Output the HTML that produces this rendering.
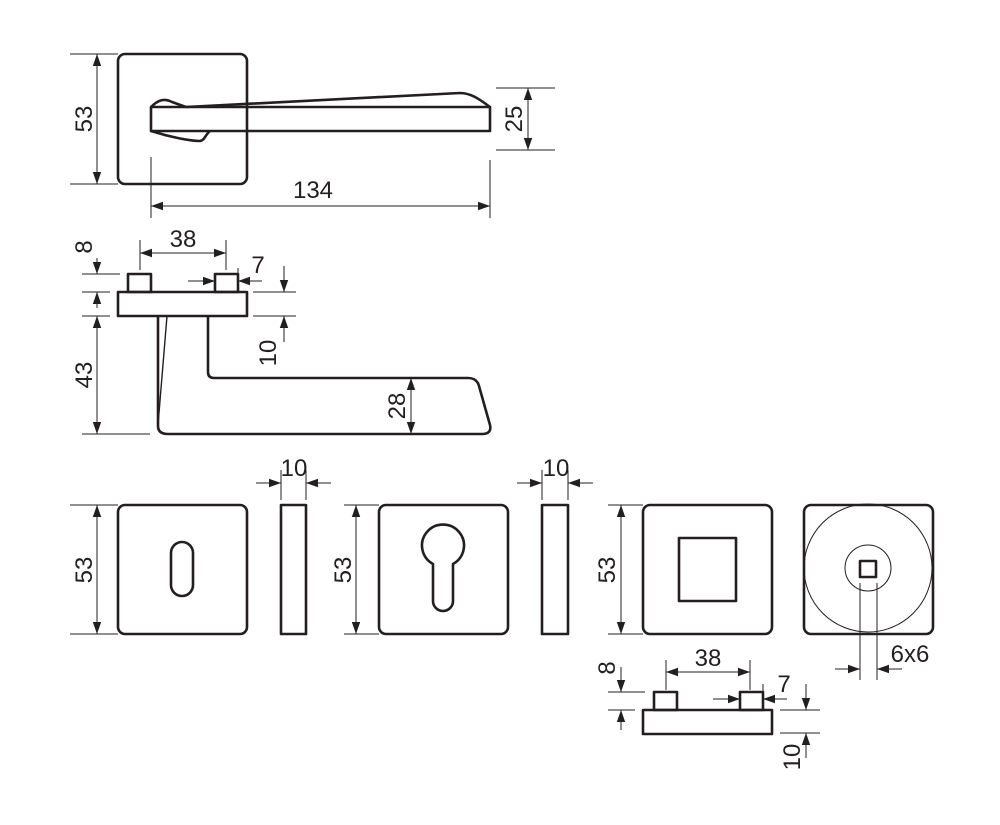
<!DOCTYPE html>
<html><head><style>
html,body{margin:0;padding:0;background:#fff;}
svg{display:block;}
text{font-family:"Liberation Sans",Arial,sans-serif;font-size:24px;fill:#231f20;}
.m{fill:none;stroke:#231f20;stroke-width:2.6;stroke-linejoin:round;}
.t{fill:none;stroke:#231f20;stroke-width:1;}
</style></head><body>
<svg width="1000" height="825" viewBox="0 0 1000 825" xmlns="http://www.w3.org/2000/svg">
<defs>
<marker id="a" viewBox="0 0 10 10" refX="10" refY="5" markerWidth="12" markerHeight="12" markerUnits="userSpaceOnUse" orient="auto-start-reverse"><path d="M0,1.5 L10,5 L0,8.5 z" fill="#231f20"/></marker>
</defs>

<!-- TOP VIEW -->
<rect class="m" x="118" y="54" width="129" height="130" rx="7"/>
<rect class="m" x="151" y="107" width="339" height="24" fill="#fff"/>
<path class="m" d="M151,107 C158,100 164,98 172,102 L186,107"/>
<path class="m" d="M186,107 L460,93 C470,93 478,98 490,107"/>
<path class="m" d="M151,131 C170,137 190,141 200,141 C205,140 205,135 210,131"/>
<!-- 53 -->
<line class="t" x1="70" y1="54" x2="118" y2="54"/><line class="t" x1="70" y1="184" x2="118" y2="184"/>
<line class="t" x1="97" y1="54" x2="97" y2="184" marker-start="url(#a)" marker-end="url(#a)"/>
<text transform="translate(92,119) rotate(-90)" text-anchor="middle">53</text>
<!-- 25 -->
<line class="t" x1="496" y1="88" x2="555" y2="88"/><line class="t" x1="496" y1="150" x2="555" y2="150"/>
<line class="t" x1="528" y1="88" x2="528" y2="150" marker-start="url(#a)" marker-end="url(#a)"/>
<text transform="translate(522,119) rotate(-90)" text-anchor="middle">25</text>
<!-- 134 -->
<line class="t" x1="151" y1="157" x2="151" y2="218"/><line class="t" x1="490" y1="160" x2="490" y2="218"/>
<line class="t" x1="151" y1="206" x2="490" y2="206" marker-start="url(#a)" marker-end="url(#a)"/>
<text x="313" y="198" text-anchor="middle">134</text>

<!-- SIDE VIEW -->
<rect class="m" x="118" y="292" width="129" height="24"/>
<rect class="m" x="128" y="274" width="23" height="18"/>
<rect class="m" x="215" y="274" width="23" height="18"/>
<path class="m" d="M158,316 L158,426 Q158,434 168,434 L482,434 Q492,434 490,425 L479,386 Q477,378 468,378 L214,378 Q208,378 208,372 L208,316"/>
<line class="t" x1="167" y1="316" x2="158" y2="425" style="stroke-width:1.4"/>
<!-- 38 -->
<line class="t" x1="140" y1="240" x2="140" y2="270"/><line class="t" x1="226" y1="240" x2="226" y2="270"/>
<line class="t" x1="140" y1="253" x2="226" y2="253" marker-start="url(#a)" marker-end="url(#a)"/>
<text x="183" y="247" text-anchor="middle">38</text>
<!-- 7 -->
<line class="t" x1="188" y1="281" x2="215" y2="281" marker-end="url(#a)"/>
<line class="t" x1="262" y1="281" x2="238" y2="281" marker-end="url(#a)"/>
<line class="t" x1="238" y1="268" x2="238" y2="274"/>
<text x="258" y="273" text-anchor="middle">7</text>
<!-- right 8/10 -->
<line class="t" x1="253" y1="292" x2="296" y2="292"/><line class="t" x1="253" y1="316" x2="296" y2="316"/>
<line class="t" x1="284" y1="266" x2="284" y2="292" marker-end="url(#a)"/>
<line class="t" x1="284" y1="342" x2="284" y2="316" marker-end="url(#a)"/>
<text transform="translate(276,353) rotate(-90)" text-anchor="middle">10</text>
<!-- left 8/43 -->
<line class="t" x1="82" y1="274" x2="120" y2="274"/><line class="t" x1="82" y1="292" x2="110" y2="292"/>
<line class="t" x1="82" y1="316" x2="110" y2="316"/><line class="t" x1="82" y1="434" x2="150" y2="434"/>
<line class="t" x1="97" y1="258" x2="97" y2="274" marker-end="url(#a)"/>
<line class="t" x1="97" y1="308" x2="97" y2="292" marker-end="url(#a)"/>
<line class="t" x1="97" y1="316" x2="97" y2="434" marker-start="url(#a)" marker-end="url(#a)"/>
<text transform="translate(92,247) rotate(-90)" text-anchor="middle">8</text>
<text transform="translate(92,375) rotate(-90)" text-anchor="middle">43</text>
<!-- 28 -->
<line class="t" x1="411" y1="378" x2="411" y2="434" marker-start="url(#a)" marker-end="url(#a)"/>
<text transform="translate(405,406) rotate(-90)" text-anchor="middle">28</text>

<!-- BOTTOM ROW -->
<rect class="m" x="118" y="505" width="129" height="129" rx="7"/>
<rect class="m" x="171" y="542" width="22" height="54" rx="11"/>
<line class="t" x1="70" y1="505" x2="118" y2="505"/><line class="t" x1="70" y1="634" x2="118" y2="634"/>
<line class="t" x1="97" y1="505" x2="97" y2="634" marker-start="url(#a)" marker-end="url(#a)"/>
<text transform="translate(92,570) rotate(-90)" text-anchor="middle">53</text>

<rect class="m" x="281" y="505" width="25" height="129"/>
<line class="t" x1="281" y1="470" x2="281" y2="500"/><line class="t" x1="306" y1="470" x2="306" y2="500"/>
<line class="t" x1="256" y1="483" x2="281" y2="483" marker-end="url(#a)"/>
<line class="t" x1="331" y1="483" x2="306" y2="483" marker-end="url(#a)"/>
<text x="294" y="476" text-anchor="middle">10</text>

<rect class="m" x="379" y="505" width="129" height="129" rx="7"/>
<path class="m" d="M433,564 A21,21 0 1 1 453,564 L453,601 A10,10 0 0 1 433,601 Z"/>
<line class="t" x1="344" y1="505" x2="379" y2="505"/><line class="t" x1="344" y1="634" x2="379" y2="634"/>
<line class="t" x1="356" y1="505" x2="356" y2="634" marker-start="url(#a)" marker-end="url(#a)"/>
<text transform="translate(351,570) rotate(-90)" text-anchor="middle">53</text>

<rect class="m" x="542" y="505" width="26" height="129"/>
<line class="t" x1="542" y1="470" x2="542" y2="500"/><line class="t" x1="568" y1="470" x2="568" y2="500"/>
<line class="t" x1="517" y1="483" x2="542" y2="483" marker-end="url(#a)"/>
<line class="t" x1="593" y1="483" x2="568" y2="483" marker-end="url(#a)"/>
<text x="556" y="476" text-anchor="middle">10</text>

<rect class="m" x="643" y="505" width="129" height="129" rx="7"/>
<rect class="m" x="679" y="538" width="57" height="63"/>
<line class="t" x1="608" y1="505" x2="643" y2="505"/><line class="t" x1="608" y1="634" x2="643" y2="634"/>
<line class="t" x1="621" y1="505" x2="621" y2="634" marker-start="url(#a)" marker-end="url(#a)"/>
<text transform="translate(615,570) rotate(-90)" text-anchor="middle">53</text>

<rect class="m" x="804" y="505" width="129" height="129" rx="7"/>
<circle class="t" cx="868" cy="568" r="64"/>
<circle class="t" cx="868" cy="568" r="23"/>
<rect class="m" x="860" y="561" width="16" height="16"/>
<line class="t" x1="860" y1="583" x2="860" y2="680"/><line class="t" x1="877" y1="583" x2="877" y2="680"/>
<line class="t" x1="835" y1="669" x2="860" y2="669" marker-end="url(#a)"/>
<line class="t" x1="902" y1="669" x2="877" y2="669" marker-end="url(#a)"/>
<text x="910" y="662" text-anchor="middle">6x6</text>

<!-- bottom side plate -->
<rect class="m" x="643" y="710" width="129" height="24"/>
<rect class="m" x="654" y="692" width="23" height="18"/>
<rect class="m" x="740" y="692" width="23" height="18"/>
<line class="t" x1="666" y1="660" x2="666" y2="690"/><line class="t" x1="750" y1="660" x2="750" y2="690"/>
<line class="t" x1="666" y1="672" x2="750" y2="672" marker-start="url(#a)" marker-end="url(#a)"/>
<line class="t" x1="763" y1="684" x2="763" y2="692"/>
<text x="708" y="666" text-anchor="middle">38</text>
<line class="t" x1="713" y1="699" x2="740" y2="699" marker-end="url(#a)"/>
<line class="t" x1="787" y1="699" x2="763" y2="699" marker-end="url(#a)"/>
<text x="784" y="692" text-anchor="middle">7</text>
<line class="t" x1="608" y1="692" x2="645" y2="692"/><line class="t" x1="608" y1="710" x2="635" y2="710"/>
<line class="t" x1="621" y1="667" x2="621" y2="692" marker-end="url(#a)"/>
<line class="t" x1="621" y1="730" x2="621" y2="710" marker-end="url(#a)"/>
<text transform="translate(615,668) rotate(-90)" text-anchor="middle">8</text>
<line class="t" x1="780" y1="710" x2="820" y2="710"/><line class="t" x1="780" y1="733" x2="820" y2="733"/>
<line class="t" x1="806" y1="684" x2="806" y2="710" marker-end="url(#a)"/>
<line class="t" x1="806" y1="758" x2="806" y2="733" marker-end="url(#a)"/>
<text transform="translate(800,757) rotate(-90)" text-anchor="middle">10</text>
</svg>
</body></html>
